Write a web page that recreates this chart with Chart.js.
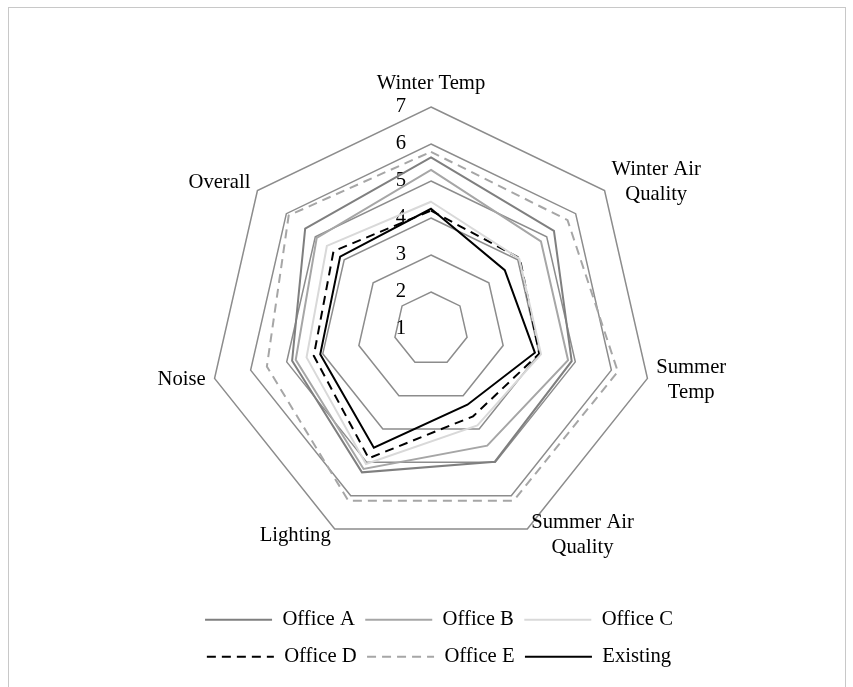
<!DOCTYPE html>
<html>
<head>
<meta charset="utf-8">
<script src="https://cdn.jsdelivr.net/npm/chart.js@4.4.1/dist/chart.umd.min.js"></script>
<style>
  html, body { margin: 0; padding: 0; background: #ffffff; overflow: hidden; }
  #wrap { position: relative; width: 853px; height: 687px; }
  #frame { position: absolute; left: 8px; top: 7px; width: 838px; height: 700px; border: 1px solid #c8c8c8; box-sizing: border-box; }
  #c { position: absolute; left: 0; top: 0; }
</style>
</head>
<body>
<div id="wrap">
  <div id="frame"></div>
  <canvas id="c" width="853" height="687"></canvas>
</div>
<script>
// ---- data ----
const categories = ['Winter Temp', ['Winter Air', 'Quality'], ['Summer', 'Temp'], ['Summer Air', 'Quality'], 'Lighting', 'Noise', 'Overall'];
const tickLabels = ['1', '2', '3', '4', '5', '6', '7'];
const seriesNames = ['Office A', 'Office B', 'Office C', 'Office D', 'Office E', 'Existing'];
const officeA  = [5.64, 5.25, 4.90, 4.98, 5.30, 4.85, 5.35];
const officeB  = [5.30, 4.80, 4.80, 4.50, 5.20, 4.75, 4.95];
const officeC  = [4.44, 4.05, 4.05, 3.89, 5.05, 4.45, 4.60];
const officeD  = [4.20, 4.07, 4.00, 3.62, 4.88, 4.25, 4.37];
const officeE  = [5.79, 5.72, 6.18, 6.15, 6.15, 5.55, 5.92];
const existing = [4.25, 3.55, 3.88, 3.27, 4.56, 4.07, 4.14];

// ---- styles ----
const FONT_FAMILY = "'Liberation Serif', 'Times New Roman', serif";
const FONT_SIZE = 20.67;
const FONT_STR = FONT_SIZE + 'px ' + FONT_FAMILY;
const LEGEND_LINE = 67;
const RADAR_SHIFT_X = -8; // plot area sits slightly left of the legend centre
const styles = [
  { color: '#7f7f7f', dash: [] },
  { color: '#a6a6a6', dash: [] },
  { color: '#d9d9d9', dash: [] },
  { color: '#000000', dash: [9, 6] },
  { color: '#a6a6a6', dash: [9, 6] },
  { color: '#000000', dash: [] }
];
const seriesValues = [officeA, officeB, officeC, officeD, officeE, existing];

const datasets = seriesNames.map((name, i) => ({
  label: name,
  data: seriesValues[i],
  borderColor: styles[i].color,
  backgroundColor: 'transparent',
  borderDash: styles[i].dash,
  borderWidth: 2,
  pointRadius: 0,
  pointHoverRadius: 0,
  fill: false,
  tension: 0
}));

const labelPlugin = {
  id: 'customLabels',
  beforeDatasetsDraw(chart) {
    const s = chart.scales.r;
    const ctx = chart.ctx;
    ctx.save();
    ctx.font = FONT_STR;
    ctx.fillStyle = '#000';
    ctx.textAlign = 'right';
    ctx.textBaseline = 'middle';
    tickLabels.forEach((t) => {
      const p = s.getPointPositionForValue(0, Number(t));
      ctx.fillText(t, s.xCenter - 25, p.y);
    });
    ctx.restore();
  },
  afterDatasetsDraw(chart) {
    const s = chart.scales.r;
    const ctx = chart.ctx;
    ctx.save();
    ctx.font = FONT_STR;
    ctx.fillStyle = '#000';
    ctx.textAlign = 'center';
    ctx.textBaseline = 'middle';
    const lh = 25;
    categories.forEach((lab, i) => {
      const lines = Array.isArray(lab) ? lab : [lab];
      const p = s.getPointPosition(i, s.drawingArea);
      const a = p.angle + Math.PI / 2;
      const sn = Math.sin(a), cs = Math.cos(a);
      const h = lines.length * lh;
      const w = Math.max(...lines.map(t => ctx.measureText(t).width));
      let cx, cy;
      if (Math.abs(sn) < 0.05) {
        cx = p.x;
        cy = cs > 0 ? p.y - 23 - (h - lh) / 2 : p.y + 23 + (h - lh) / 2;
      } else {
        const gap = 9 * Math.abs(sn);
        cy = cs > 0 ? p.y - cs * 13 : p.y - cs * 7;
        cx = sn > 0 ? p.x + gap + w / 2 : p.x - gap - w / 2;
      }
      lines.forEach((t, j) => {
        ctx.fillText(t, cx, cy - h / 2 + lh * (j + 0.5));
      });
    });
    ctx.restore();
  },
  afterDraw(chart) {
    // legend line samples, placed in the legend's own item boxes
    const lg = chart.legend;
    if (!lg || !lg.legendHitBoxes) return;
    const ctx = chart.ctx;
    ctx.save();
    lg.legendHitBoxes.forEach((hb, i) => {
      const ds = chart.data.datasets[i];
      const y = hb.top + hb.height / 2;
      ctx.beginPath();
      ctx.strokeStyle = ds.borderColor;
      ctx.lineWidth = ds.borderWidth;
      ctx.lineCap = 'butt';
      ctx.setLineDash(ds.borderDash || []);
      ctx.moveTo(hb.left, y);
      ctx.lineTo(hb.left + LEGEND_LINE, y);
      ctx.stroke();
    });
    ctx.restore();
  }
};

new Chart(document.getElementById('c'), {
  type: 'radar',
  data: { labels: categories, datasets: datasets },
  options: {
    responsive: false,
    animation: false,
    events: [],
    layout: { padding: { left: 139, right: 114, top: 107, bottom: 6.9 } },
    elements: { line: { borderJoinStyle: 'miter' } },
    scales: {
      r: {
        min: 1,
        max: 7,
        beginAtZero: false,
        ticks: { display: false, stepSize: 1 },
        pointLabels: { display: false },
        angleLines: { display: false },
        grid: { color: '#8c8c8c', lineWidth: 1.5, circular: false },
        afterFit(s) {
          s.xCenter = Math.floor(s.left + s.width / 2) + RADAR_SHIFT_X;
          s.yCenter = Math.floor(s.top + s.height / 2);
        }
      }
    },
    plugins: {
      tooltip: { enabled: false },
      legend: {
        display: true,
        position: 'bottom',
        title: { display: true, text: '', font: { size: 10, lineHeight: 1.2 }, padding: { top: 31.97, bottom: 0 } },
        labels: {
          usePointStyle: false,
          boxWidth: LEGEND_LINE,
          boxHeight: 26.67,
          padding: 10.4,
          color: '#000',
          font: { family: FONT_FAMILY, size: FONT_SIZE },
          generateLabels(chart) {
            return chart.data.datasets.map((ds, i) => ({
              text: ds.label,
              fillStyle: 'rgba(0,0,0,0)',
              strokeStyle: 'rgba(0,0,0,0)',
              lineWidth: 0,
              hidden: false,
              datasetIndex: i,
              fontColor: '#000'
            }));
          }
        }
      }
    }
  },
  plugins: [labelPlugin]
});
</script>
</body>
</html>
